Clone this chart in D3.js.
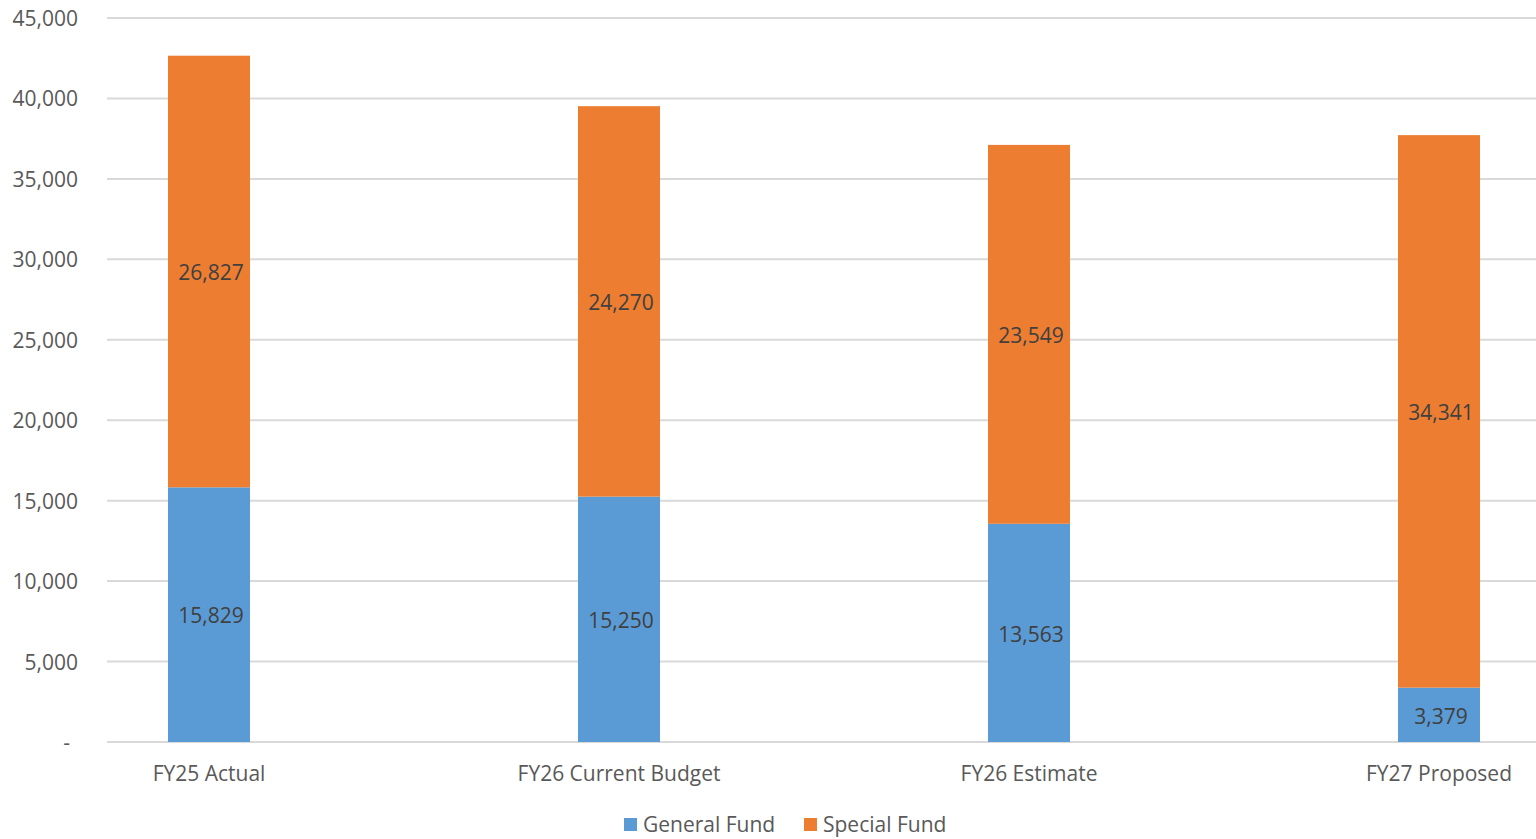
<!DOCTYPE html>
<html><head><meta charset="utf-8">
<script src="https://cdn.jsdelivr.net/npm/d3@7"></script>
<style>body{margin:0;background:#fff;} svg{display:block;}</style>
</head><body>
<svg id="c" width="1536" height="839"></svg>
<script>
const categories = ["FY25 Actual","FY26 Current Budget","FY26 Estimate","FY27 Proposed"];
const generalFund = [15829, 15250, 13563, 3379];
const specialFund = [26827, 24270, 23549, 34341];
const seriesNames = ["General Fund","Special Fund"];
const seriesColors = ["#5B9BD5","#ED7D31"];
const yTicks = [0,5000,10000,15000,20000,25000,30000,35000,40000,45000];

const font = "'Open Sans', sans-serif";
const svg = d3.select("#c");
const plotLeft = 107, plotRight = 1536;
const y = d3.scaleLinear().domain([0,45000]).range([742,18]);
const x = d3.scaleBand().domain(categories).range([4,1644]);
const barW = x.bandwidth()*0.2;

// gridlines
svg.append("g").selectAll("line").data(yTicks).join("line")
  .attr("x1",plotLeft).attr("x2",plotRight)
  .attr("y1",d=>y(d)).attr("y2",d=>y(d))
  .attr("stroke","#d9d9d9").attr("stroke-width",2);

// y labels
svg.append("g").selectAll("text").data(yTicks).join("text")
  .attr("x",78).attr("y",d=>y(d)).attr("dy","0.38em")
  .attr("text-anchor","end").attr("font-family",font).attr("font-size",21)
  .attr("fill","#595959").text(d=>d===0?"-":d3.format(",")(d))
  .attr("dx",d=>d===0?-8:0);

const stack = d3.stack().keys([0,1]).value((d,k)=>d[k]);
const rows = categories.map((c,i)=>[generalFund[i],specialFund[i]]);
const stacked = stack(rows);

stacked.forEach((layer,si)=>{
  const g = svg.append("g");
  g.selectAll("rect").data(layer).join("rect")
    .attr("x",(d,i)=>x(categories[i])+x.bandwidth()/2-barW/2)
    .attr("width",barW)
    .attr("y",d=>y(d[1])).attr("height",d=>y(d[0])-y(d[1]))
    .attr("fill",seriesColors[si]);
  g.selectAll("text").data(layer).join("text")
    .attr("x",(d,i)=>x(categories[i])+x.bandwidth()/2+2)
    .attr("y",d=>y((d[0]+d[1])/2)).attr("dy","0.42em")
    .attr("text-anchor","middle").attr("font-family",font).attr("font-size",21)
    .attr("fill","#404040").text(d=>d3.format(",")(d[1]-d[0]));
});

// x labels
svg.append("g").selectAll("text").data(categories).join("text")
  .attr("x",d=>x(d)+x.bandwidth()/2).attr("y",773).attr("dy","0.38em")
  .attr("text-anchor","middle").attr("font-family",font).attr("font-size",21)
  .attr("fill","#595959").text(d=>d);

// legend
const legX = [624, 804];
seriesNames.forEach((n,i)=>{
  svg.append("rect").attr("x",legX[i]).attr("y",818).attr("width",13).attr("height",13).attr("fill",seriesColors[i]);
  svg.append("text").attr("x",legX[i]+19).attr("y",824).attr("dy","0.38em")
    .attr("font-family",font).attr("font-size",21).attr("fill","#595959").text(n);
});
</script>
</body></html>
